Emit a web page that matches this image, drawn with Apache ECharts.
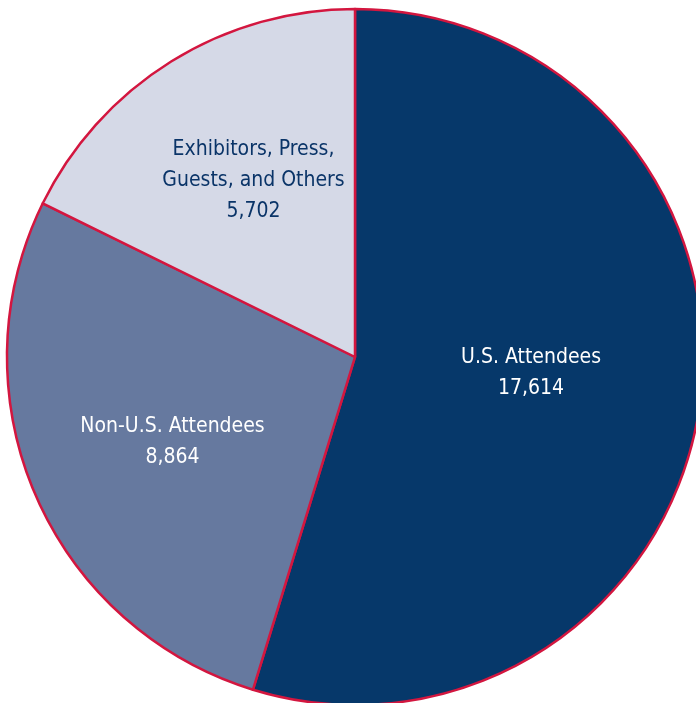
<!DOCTYPE html>
<html>
<head>
<meta charset="utf-8">
<script src="https://cdn.jsdelivr.net/npm/echarts@6/dist/echarts.min.js"></script>
<style>html,body{margin:0;padding:0;background:#fff;}#c{width:696px;height:703px;}</style>
</head>
<body>
<div id="c"></div>
<script>
const categories = ["U.S. Attendees", "Non-U.S. Attendees", "Exhibitors, Press,\nGuests, and Others"];
const values = [17614, 8864, 5702];
const colors = ["#06386a", "#66799f", "#d5d9e7"];
const labelColors = ["#ffffff", "#ffffff", "#0a3468"];
const labelOffsets = [[1, -10], [-20, 15], [-8, -26]];

const chart = echarts.init(document.getElementById('c'));
chart.setOption({
  animation: false,
  series: [{
    type: 'pie',
    center: [355, 357],
    radius: [0, 348],
    startAngle: 90,
    clockwise: true,
    label: {
      position: 'inside',
      fontFamily: '"DejaVu Sans Condensed", sans-serif',
      fontSize: 21,
      lineHeight: 31,
      align: 'center',
      formatter: p => p.name + '\n' + p.value.toLocaleString('en-US')
    },
    labelLine: {show: false},
    itemStyle: {borderColor: '#d3163f', borderWidth: 2.5},
    emphasis: {disabled: true},
    data: categories.map((n, i) => ({
      name: n, value: values[i],
      itemStyle: {color: colors[i]},
      label: {color: labelColors[i], offset: labelOffsets[i]}
    }))
  }]
});
</script>
</body>
</html>
